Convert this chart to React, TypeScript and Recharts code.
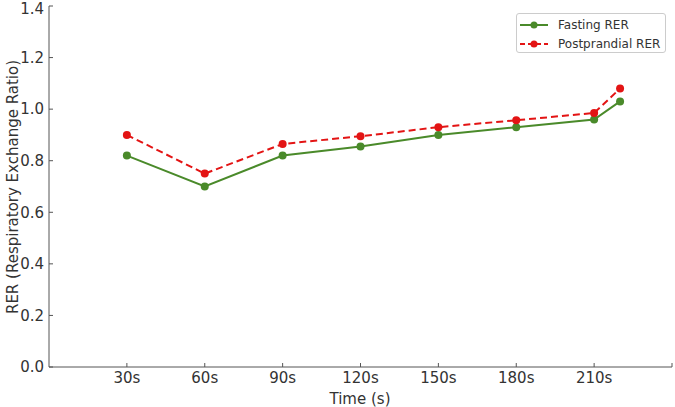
import React from 'react';
import { LineChart, Line, XAxis, YAxis } from 'recharts';

const times = [30, 60, 90, 120, 150, 180, 210, 220];
const fastingRER = [0.82, 0.7, 0.82, 0.855, 0.9, 0.93, 0.96, 1.03];
const postprandialRER = [0.9, 0.75, 0.865, 0.895, 0.93, 0.957, 0.985, 1.08];
const xTicks = [30, 60, 90, 120, 150, 180, 210, 240];
const yTicks = [0, 0.2, 0.4, 0.6, 0.8, 1.0, 1.2, 1.4];

const data = times.map((t, i) => ({ t, fasting: fastingRER[i], post: postprandialRER[i] }));

const GREEN = '#4a8a2a';
const RED = '#e31414';
const FONT = '"DejaVu Sans", sans-serif';
const TEXT = '#333';

// legend drawn on top of the chart so it doesn't shrink the plot area
function LegendBox() {
    const rows = [
        { name: 'Fasting RER', color: GREEN, dash: undefined },
        { name: 'Postprandial RER', color: RED, dash: '5 3' },
    ];
    return (
        <div style={{
            position: 'absolute', left: 516, top: 13, width: 150, height: 40, boxSizing: 'border-box',
            border: '1px solid #ccc', borderRadius: 3, background: '#fff',
            padding: '1px 0 0 2px', fontFamily: FONT, fontSize: 12, color: TEXT,
        }}>
            {rows.map((r) => (
                <div key={r.name} style={{ display: 'flex', alignItems: 'center', height: 19 }}>
                    <svg width={30} height={12} style={{ marginRight: 9 }}>
                        <line x1={1} y1={6} x2={29} y2={6} stroke={r.color} strokeWidth={2} strokeDasharray={r.dash} />
                        <circle cx={15} cy={6} r={3.5} fill={r.color} />
                    </svg>
                    <span>{r.name}</span>
                </div>
            ))}
        </div>
    );
}

export default function App() {
    return (
        <div style={{ position: 'fixed', left: 0, top: 0, width: 675, height: 407, background: '#fff' }}>
            <LineChart width={675} height={407} data={data} margin={{ top: 6, right: 3, left: 0, bottom: 0 }}>
                <XAxis
                    dataKey="t"
                    type="number"
                    domain={[0, 240]}
                    ticks={xTicks}
                    tickFormatter={(v: number) => (v === 240 ? '' : `${v}s`)}
                    height={40}
                    tickSize={-4}
                    tickMargin={9}
                    stroke="#555"
                    tick={{ fill: TEXT, fontSize: 15, fontFamily: FONT }}
                    label={{
                        content: () => (
                            <text x={360} y={404} textAnchor="middle" fill={TEXT} fontSize={15} fontFamily={FONT}>Time (s)</text>
                        ),
                    }}
                />
                <YAxis
                    type="number"
                    domain={[0, 1.4]}
                    ticks={yTicks}
                    tickFormatter={(v: number) => v.toFixed(1)}
                    width={49}
                    tickSize={-4}
                    tickMargin={9}
                    stroke="#555"
                    tick={{ fill: TEXT, fontSize: 15, fontFamily: FONT }}
                    label={{
                        content: () => (
                            <text x={13} y={187} transform="rotate(-90 13 187)" textAnchor="middle" dominantBaseline="central" fill={TEXT} fontSize={15} fontFamily={FONT}>
                                RER (Respiratory Exchange Ratio)
                            </text>
                        ),
                    }}
                />
                <Line
                    dataKey="fasting"
                    name="Fasting RER"
                    stroke={GREEN}
                    strokeWidth={2}
                    dot={{ r: 4, fill: GREEN, stroke: GREEN, strokeWidth: 0 }}
                    isAnimationActive={false}
                />
                <Line
                    dataKey="post"
                    name="Postprandial RER"
                    stroke={RED}
                    strokeWidth={2}
                    strokeDasharray="7 4"
                    dot={{ r: 4, fill: RED, stroke: RED, strokeWidth: 0, strokeDasharray: '0' }}
                    isAnimationActive={false}
                />
            </LineChart>
            <LegendBox />
        </div>
    );
}
